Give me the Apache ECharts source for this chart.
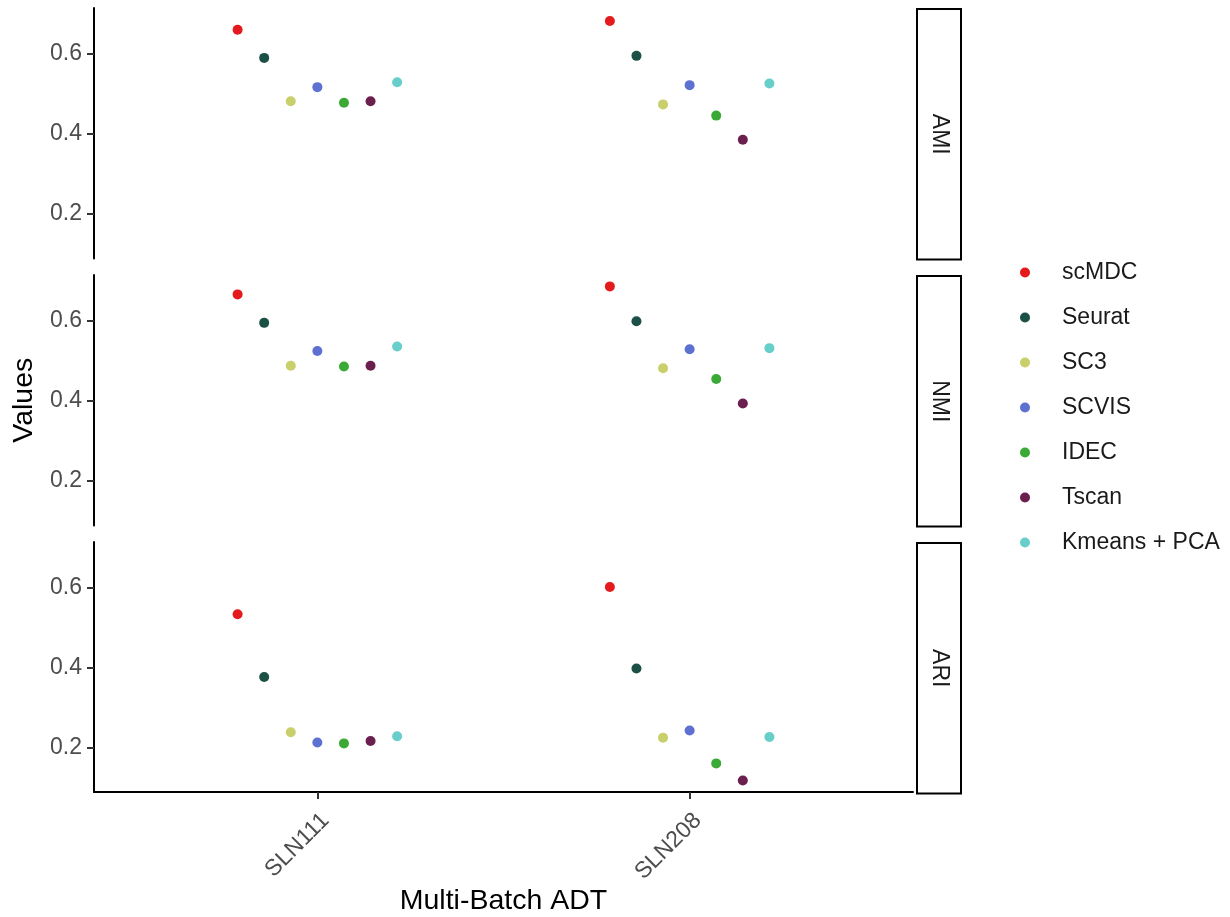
<!DOCTYPE html>
<html>
<head>
<meta charset="utf-8">
<script src="https://cdn.jsdelivr.net/npm/echarts@6/dist/echarts.min.js"></script>
<style>
html,body{margin:0;padding:0;background:#fff;}
#chart{width:1230px;height:917px;}
</style>
</head>
<body>
<div id="chart"></div>
<script>
// ---- data ----
const samples = ['SLN111', 'SLN208'];
const methods = ['scMDC', 'Seurat', 'SC3', 'SCVIS', 'IDEC', 'Tscan', 'Kmeans + PCA'];
const metrics = ['AMI', 'NMI', 'ARI'];
const colors = ['#E41A1C', '#1B5046', '#C8CF6B', '#5E71D0', '#3BA935', '#6A1F4F', '#67CEC9'];
const yTicks = [0.2, 0.4, 0.6];

const amiSLN111 = [0.659, 0.589, 0.481, 0.516, 0.477, 0.481, 0.528];
const amiSLN208 = [0.681, 0.594, 0.473, 0.521, 0.445, 0.385, 0.525];
const nmiSLN111 = [0.665, 0.594, 0.487, 0.524, 0.485, 0.487, 0.535];
const nmiSLN208 = [0.685, 0.598, 0.481, 0.528, 0.454, 0.393, 0.531];
const ariSLN111 = [0.533, 0.376, 0.238, 0.212, 0.210, 0.216, 0.228];
const ariSLN208 = [0.601, 0.397, 0.224, 0.242, 0.160, 0.117, 0.226];

const metricData = [
  [amiSLN111, amiSLN208],
  [nmiSLN111, nmiSLN208],
  [ariSLN111, ariSLN208]
];

// ---- layout ----
const panelLeft = 94, panelRight = 913, panelH = 250.5;
const panelTops = [8, 275, 542];
const dodgeWidth = 0.5;
const yMin = 0.0886, yMax = 0.7134;
const FONT = 'Liberation Sans, Arial, sans-serif';
const TXT = 23, TITLE = 28.5;

const grids = [], xAxes = [], yAxes = [], series = [], graphics = [];

metrics.forEach((m, gi) => {
  grids.push({ left: panelLeft, width: panelRight - panelLeft, top: panelTops[gi], height: panelH });
  const isBottom = gi === metrics.length - 1;
  xAxes.push({
    gridIndex: gi, type: 'value', min: 0.4, max: 2.6,
    splitLine: { show: false },
    axisLine: { show: isBottom, onZero: false, lineStyle: { color: '#000', width: 2 } },
    axisTick: { show: isBottom, customValues: [1, 2], length: 7, lineStyle: { color: '#333', width: 2 } },
    axisLabel: {
      show: isBottom, customValues: [1, 2], rotate: 45, margin: 17,
      align: 'right', verticalAlign: 'top',
      formatter: v => samples[Math.round(v) - 1] || '',
      color: '#4d4d4d', fontSize: TXT, fontFamily: FONT
    },
    name: isBottom ? 'Multi-Batch ADT' : '',
    nameLocation: 'middle', nameGap: 95,
    nameTextStyle: { color: '#000', fontSize: TITLE, fontFamily: FONT }
  });
  yAxes.push({
    gridIndex: gi, type: 'value', min: yMin, max: yMax,
    splitLine: { show: false },
    axisLine: { show: true, onZero: false, lineStyle: { color: '#000', width: 2 } },
    axisTick: { show: true, customValues: yTicks, length: 7, lineStyle: { color: '#333', width: 2 } },
    axisLabel: {
      customValues: yTicks, margin: 12,
      formatter: v => v.toFixed(1),
      color: '#4d4d4d', fontSize: TXT, fontFamily: FONT
    },
    name: gi === 1 ? 'Values' : '',
    nameLocation: 'middle', nameGap: 53,
    nameTextStyle: { color: '#000', fontSize: TITLE, fontFamily: FONT }
  });

  methods.forEach((meth, j) => {
    const off = (j - (methods.length - 1) / 2) * dodgeWidth / methods.length;
    series.push({
      name: meth, type: 'scatter', xAxisIndex: gi, yAxisIndex: gi,
      symbol: 'circle', symbolSize: 10,
      itemStyle: { color: colors[j], opacity: 1 },
      emphasis: { disabled: true },
      data: samples.map((s, si) => [si + 1 + off, metricData[gi][si][j]])
    });
  });

  // facet strip
  graphics.push({
    type: 'group', left: 916, top: panelTops[gi],
    children: [
      { type: 'rect', shape: { x: 0, y: 0, width: 44, height: panelH },
        style: { fill: '#fff', stroke: '#000', lineWidth: 2 } },
      { type: 'text', x: 22, y: panelH / 2, rotation: -Math.PI / 2,
        style: { text: m, fill: '#1a1a1a', font: TXT + 'px ' + FONT, align: 'center', verticalAlign: 'middle' } }
    ]
  });
});

const chart = echarts.init(document.getElementById('chart'), null, { renderer: 'canvas' });
chart.setOption({
  animation: false,
  backgroundColor: '#fff',
  grid: grids,
  xAxis: xAxes,
  yAxis: yAxes,
  series: series,
  graphic: graphics,
  legend: {
    data: methods,
    orient: 'vertical',
    left: 1015, top: 256,
    itemWidth: 64, itemHeight: 10, itemGap: 22,
    icon: 'circle',
    selectedMode: false,
    textStyle: { color: '#1a1a1a', fontSize: TXT, fontFamily: FONT, lineHeight: 22 }
  }
});
</script>
</body>
</html>
